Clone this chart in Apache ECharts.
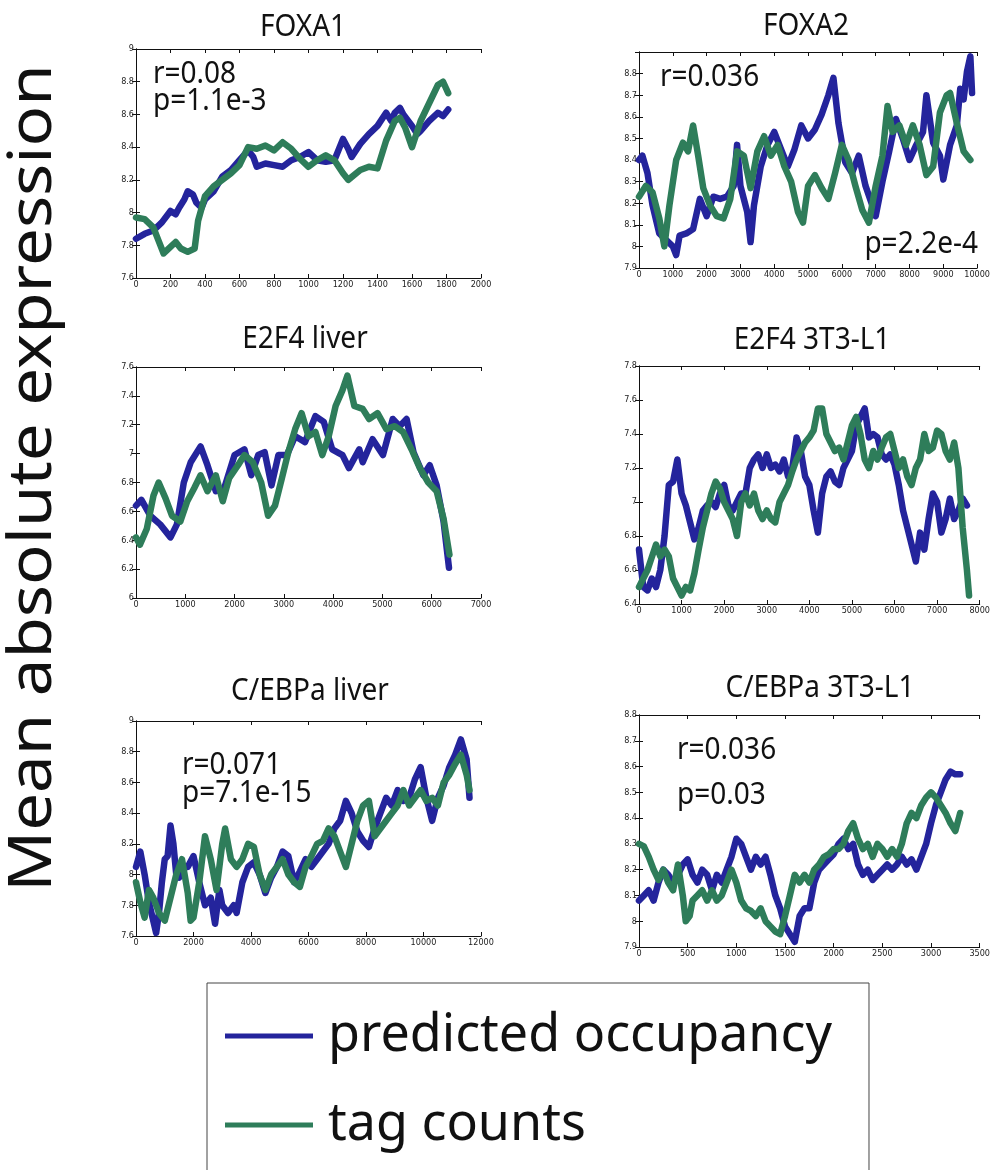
<!DOCTYPE html>
<html><head><meta charset="utf-8">
<script src="https://cdn.jsdelivr.net/npm/echarts@6/dist/echarts.min.js"></script>
<style>html,body{margin:0;padding:0;background:#fff}#c{width:993px;height:1170px}</style>
</head><body><div id="c"></div>
<script>
// ---------------- data ----------------
const panelTitles = ['FOXA1', 'FOXA2', 'E2F4 liver', 'E2F4 3T3-L1', 'C/EBPa liver', 'C/EBPa 3T3-L1'];
const seriesNames = ['predicted occupancy', 'tag counts'];
const xMax  = [2000, 10000, 7000, 8000, 12000, 3500];
const xStep = [200, 1000, 1000, 1000, 2000, 500];
const yMin  = [7.6, 7.9, 6, 6.4, 7.6, 7.9];
const yMax  = [9, 8.9, 7.6, 7.8, 9, 8.8];
const yStep = [0.2, 0.1, 0.2, 0.2, 0.2, 0.1];
const statsR = ['r=0.08', 'r=0.036', '', '', 'r=0.071', 'r=0.036'];
const statsP = ['p=1.1e-3', 'p=2.2e-4', '', '', 'p=7.1e-15', 'p=0.03'];

const foxa1Pred = [[0,7.84],[50,7.87],[100,7.89],[150,7.94],[200,8.01],[230,7.99],[250,8.03],[280,8.08],[300,8.13],[330,8.11],[350,8.06],[380,8.03],[400,8.08],[450,8.13],[500,8.22],[550,8.26],[600,8.32],[650,8.38],[680,8.34],[700,8.28],[750,8.30],[800,8.29],[850,8.28],[900,8.32],[950,8.34],[1000,8.37],[1050,8.32],[1100,8.31],[1150,8.32],[1200,8.45],[1230,8.39],[1250,8.34],[1300,8.42],[1350,8.48],[1400,8.53],[1450,8.61],[1480,8.56],[1500,8.61],[1530,8.64],[1550,8.60],[1600,8.53],[1630,8.48],[1650,8.50],[1700,8.56],[1750,8.61],[1780,8.59],[1810,8.63]];
const foxa1Tag = [[0,7.97],[50,7.96],[100,7.91],[130,7.83],[160,7.75],[200,7.79],[230,7.82],[260,7.78],[300,7.76],[340,7.78],[360,7.95],[400,8.10],[450,8.16],[500,8.20],[550,8.24],[600,8.29],[650,8.40],[700,8.39],[750,8.41],[800,8.38],[850,8.43],[900,8.39],[950,8.33],[1000,8.28],[1050,8.32],[1100,8.35],[1150,8.32],[1200,8.24],[1230,8.20],[1300,8.26],[1350,8.28],[1400,8.27],[1450,8.44],[1500,8.56],[1530,8.58],[1560,8.52],[1600,8.40],[1650,8.56],[1700,8.67],[1750,8.78],[1780,8.80],[1810,8.73]];

const foxa2Pred = [[0,8.40],[100,8.42],[250,8.34],[400,8.19],[600,8.06],[800,8.03],[1000,8.00],[1100,7.96],[1200,8.05],[1400,8.06],[1600,8.08],[1800,8.22],[2000,8.14],[2200,8.23],[2400,8.22],[2600,8.23],[2800,8.28],[2900,8.47],[3000,8.28],[3200,8.16],[3300,8.02],[3400,8.19],[3600,8.37],[3800,8.47],[4000,8.53],[4200,8.45],[4400,8.37],[4600,8.45],[4800,8.56],[5000,8.50],[5200,8.54],[5400,8.61],[5600,8.70],[5750,8.78],[5900,8.57],[6100,8.39],[6300,8.34],[6500,8.42],[6700,8.28],[6900,8.19],[7000,8.14],[7200,8.30],[7400,8.44],[7600,8.59],[7800,8.50],[8000,8.40],[8200,8.47],[8400,8.53],[8500,8.70],[8700,8.48],[8900,8.42],[9000,8.31],[9200,8.47],[9400,8.56],[9500,8.73],[9600,8.68],[9700,8.81],[9800,8.88],[9850,8.71]];
const foxa2Tag = [[0,8.23],[200,8.28],[400,8.25],[600,8.13],[750,8.00],[900,8.19],[1100,8.40],[1300,8.48],[1450,8.44],[1600,8.56],[1750,8.42],[1900,8.27],[2100,8.19],[2300,8.14],[2500,8.13],[2700,8.22],[2900,8.44],[3100,8.42],[3300,8.27],[3500,8.44],[3700,8.51],[3900,8.42],[4100,8.47],[4300,8.37],[4500,8.30],[4700,8.16],[4850,8.11],[5000,8.28],[5200,8.33],[5400,8.27],[5600,8.22],[5800,8.34],[6000,8.47],[6200,8.40],[6400,8.28],[6600,8.17],[6800,8.11],[7000,8.28],[7200,8.42],[7350,8.65],[7500,8.53],[7700,8.56],[7900,8.47],[8100,8.56],[8300,8.47],[8500,8.33],[8700,8.37],[8900,8.62],[9100,8.70],[9200,8.71],[9400,8.57],[9600,8.44],[9800,8.40]];

const e2f4LiverPred = [[0,6.64],[110,6.68],[290,6.57],[490,6.51],[700,6.42],[830,6.51],[970,6.80],[1110,6.94],[1310,7.05],[1450,6.92],[1620,6.74],[1790,6.76],[2000,6.99],[2200,7.03],[2340,6.85],[2480,6.99],[2610,7.01],[2750,6.78],[2890,6.99],[3060,6.99],[3230,7.12],[3430,7.08],[3640,7.26],[3810,7.22],[3980,7.03],[4190,6.99],[4320,6.90],[4530,7.03],[4600,6.94],[4800,7.10],[5010,6.99],[5210,7.24],[5350,7.19],[5490,7.24],[5630,7.01],[5830,6.85],[5960,6.92],[6100,6.78],[6240,6.53],[6350,6.21]];
const e2f4LiverTag = [[0,6.42],[80,6.37],[220,6.48],[355,6.71],[460,6.80],[600,6.69],[730,6.57],[900,6.53],[1040,6.67],[1180,6.76],[1310,6.85],[1450,6.74],[1620,6.85],[1760,6.67],[1890,6.83],[2070,6.92],[2200,6.99],[2370,6.94],[2540,6.80],[2680,6.57],[2820,6.64],[2960,6.83],[3090,7.01],[3230,7.17],[3360,7.28],[3500,7.12],[3640,7.15],[3780,6.99],[3910,7.12],[4050,7.33],[4190,7.44],[4290,7.54],[4430,7.33],[4600,7.31],[4730,7.24],[4900,7.28],[5080,7.17],[5250,7.19],[5420,7.15],[5590,7.03],[5760,6.90],[5930,6.80],[6100,6.74],[6240,6.55],[6360,6.30]];

const e2f43t3Pred = [[0,6.72],[100,6.50],[200,6.48],[300,6.55],[400,6.50],[500,6.60],[600,6.80],[700,7.10],[800,7.12],[900,7.25],[1000,7.05],[1100,6.98],[1200,6.88],[1300,6.78],[1400,6.85],[1500,6.95],[1600,6.98],[1700,7.00],[1800,6.97],[1900,7.05],[2000,7.10],[2100,6.98],[2200,6.95],[2300,7.00],[2400,7.05],[2500,7.05],[2600,7.20],[2700,7.25],[2800,7.28],[2900,7.20],[3000,7.28],[3100,7.20],[3200,7.22],[3300,7.18],[3400,7.25],[3500,7.15],[3600,7.20],[3700,7.38],[3800,7.30],[3900,7.15],[4000,7.10],[4100,6.95],[4200,6.82],[4300,7.05],[4400,7.15],[4500,7.18],[4600,7.12],[4700,7.10],[4800,7.20],[4900,7.25],[5000,7.30],[5100,7.45],[5200,7.50],[5300,7.55],[5400,7.38],[5500,7.40],[5600,7.38],[5700,7.28],[5800,7.25],[5900,7.28],[6000,7.22],[6100,7.10],[6200,6.95],[6300,6.85],[6400,6.75],[6500,6.65],[6600,6.82],[6700,6.72],[6800,6.90],[6900,7.05],[7000,7.00],[7100,6.82],[7200,6.90],[7300,7.02],[7400,6.90],[7500,6.95],[7600,7.02],[7700,6.98]];
const e2f43t3Tag = [[0,6.50],[200,6.60],[400,6.75],[500,6.68],[600,6.72],[700,6.68],[800,6.55],[900,6.50],[1000,6.45],[1100,6.50],[1200,6.48],[1300,6.58],[1400,6.72],[1500,6.85],[1600,6.95],[1700,7.05],[1800,7.12],[1900,7.08],[2000,7.00],[2100,6.95],[2200,6.90],[2300,6.80],[2400,7.00],[2500,7.05],[2600,6.98],[2700,7.05],[2800,6.95],[2900,6.90],[3000,6.95],[3100,6.90],[3200,6.88],[3300,7.00],[3400,7.05],[3500,7.10],[3600,7.18],[3700,7.25],[3800,7.30],[3900,7.35],[4000,7.38],[4100,7.42],[4200,7.55],[4300,7.55],[4400,7.40],[4500,7.35],[4600,7.30],[4700,7.32],[4800,7.25],[4900,7.35],[5000,7.45],[5100,7.50],[5200,7.40],[5300,7.25],[5400,7.20],[5500,7.30],[5600,7.25],[5700,7.32],[5800,7.38],[5900,7.40],[6000,7.30],[6100,7.20],[6200,7.25],[6300,7.15],[6400,7.10],[6500,7.20],[6600,7.25],[6700,7.40],[6800,7.30],[6900,7.32],[7000,7.42],[7100,7.40],[7200,7.30],[7300,7.25],[7400,7.35],[7500,7.20],[7600,6.85],[7700,6.60],[7750,6.45]];

const cebpLiverPred = [[0,8.05],[150,8.15],[300,8.00],[450,7.82],[600,7.70],[700,7.62],[800,7.75],[900,7.95],[1000,8.10],[1100,8.12],[1200,8.32],[1300,8.20],[1400,8.00],[1500,7.98],[1600,8.05],[1800,8.05],[2000,8.12],[2200,7.95],[2400,7.80],[2600,7.85],[2750,7.68],[2900,7.90],[3000,7.80],[3200,7.75],[3400,7.80],[3500,7.75],[3700,7.95],[3900,8.05],[4100,8.08],[4300,8.00],[4500,7.88],[4700,7.98],[4900,8.05],[5100,8.15],[5300,8.12],[5500,7.95],[5700,8.02],[5900,8.10],[6100,8.05],[6300,8.10],[6500,8.15],[6700,8.20],[6900,8.30],[7100,8.35],[7300,8.48],[7500,8.40],[7700,8.28],[7900,8.22],[8100,8.18],[8300,8.30],[8500,8.40],[8700,8.50],[8900,8.45],[9100,8.55],[9300,8.48],[9500,8.50],[9700,8.62],[9900,8.70],[10100,8.50],[10300,8.35],[10500,8.50],[10700,8.58],[10900,8.70],[11100,8.78],[11300,8.88],[11500,8.75],[11600,8.50]];
const cebpLiverTag = [[0,7.95],[150,7.82],[300,7.72],[450,7.90],[600,7.85],[800,7.75],[1000,7.70],[1200,7.85],[1400,8.00],[1600,8.10],[1800,7.88],[1900,7.70],[2000,7.72],[2200,7.95],[2400,8.25],[2600,8.10],[2800,7.90],[3000,8.20],[3100,8.30],[3300,8.10],[3500,8.05],[3700,8.10],[3900,8.20],[4100,8.18],[4300,8.00],[4500,7.90],[4700,8.00],[4900,8.05],[5100,8.10],[5300,8.00],[5500,7.95],[5700,7.92],[5900,8.05],[6100,8.12],[6300,8.20],[6500,8.22],[6700,8.30],[6900,8.25],[7100,8.15],[7300,8.05],[7500,8.20],[7700,8.35],[7900,8.45],[8100,8.48],[8300,8.25],[8500,8.30],[8700,8.35],[8900,8.40],[9100,8.45],[9300,8.55],[9500,8.45],[9700,8.50],[9900,8.55],[10100,8.48],[10300,8.50],[10500,8.45],[10700,8.60],[10900,8.65],[11100,8.72],[11300,8.78],[11500,8.65],[11600,8.55]];

const cebp3t3Pred = [[0,8.08],[50,8.10],[100,8.12],[150,8.08],[200,8.15],[250,8.20],[300,8.18],[350,8.15],[400,8.18],[450,8.22],[500,8.24],[550,8.18],[600,8.15],[650,8.20],[700,8.18],[750,8.12],[800,8.18],[850,8.15],[900,8.20],[950,8.25],[1000,8.32],[1050,8.30],[1100,8.25],[1150,8.20],[1200,8.25],[1250,8.22],[1300,8.25],[1350,8.18],[1400,8.10],[1450,8.05],[1500,7.98],[1550,7.95],[1600,7.92],[1650,8.02],[1700,8.05],[1750,8.05],[1800,8.15],[1850,8.20],[1900,8.22],[1950,8.24],[2000,8.26],[2050,8.30],[2100,8.32],[2150,8.28],[2200,8.30],[2250,8.22],[2300,8.18],[2350,8.20],[2400,8.16],[2450,8.18],[2500,8.20],[2550,8.22],[2600,8.20],[2650,8.22],[2700,8.25],[2750,8.22],[2800,8.24],[2850,8.20],[2900,8.25],[2950,8.30],[3000,8.38],[3050,8.45],[3100,8.50],[3150,8.55],[3200,8.58],[3250,8.57],[3300,8.57]];
const cebp3t3Tag = [[0,8.30],[50,8.29],[100,8.25],[150,8.20],[200,8.16],[250,8.20],[300,8.15],[350,8.12],[400,8.22],[450,8.10],[480,8.00],[520,8.02],[550,8.08],[600,8.10],[650,8.12],[700,8.08],[750,8.12],[800,8.08],[850,8.10],[900,8.15],[950,8.20],[1000,8.15],[1050,8.08],[1100,8.05],[1150,8.04],[1200,8.02],[1250,8.05],[1300,8.00],[1350,7.98],[1400,7.96],[1450,7.95],[1500,8.02],[1550,8.10],[1600,8.18],[1650,8.15],[1700,8.18],[1750,8.15],[1800,8.20],[1850,8.22],[1900,8.25],[1950,8.26],[2000,8.28],[2050,8.28],[2100,8.30],[2150,8.35],[2200,8.38],[2250,8.32],[2300,8.28],[2350,8.30],[2400,8.25],[2450,8.30],[2500,8.28],[2550,8.25],[2600,8.28],[2650,8.25],[2700,8.30],[2750,8.38],[2800,8.42],[2850,8.40],[2900,8.45],[2950,8.48],[3000,8.50],[3050,8.48],[3100,8.45],[3150,8.42],[3200,8.38],[3250,8.35],[3300,8.42]];

const predData = [foxa1Pred, foxa2Pred, e2f4LiverPred, e2f43t3Pred, cebpLiverPred, cebp3t3Pred];
const tagData  = [foxa1Tag, foxa2Tag, e2f4LiverTag, e2f43t3Tag, cebpLiverTag, cebp3t3Tag];

// ---------------- layout / style ----------------
const gridBoxes = [[136,49,345,229],[639,52,346,216],[136,367,345,231],[639,366,346,238],[136,721,345,215],[639,715,346,232]];
const titlePos = [[303,27],[806,26],[305,339],[812,340],[310,691],[820,688]];
const rPos = [[153,74,'left'],[660,77,'left'],null,null,[182,765,'left'],[677,750,'left']];
const pPos = [[153,101,'left'],[978,244,'right'],null,null,[182,793,'left'],[677,795,'left']];
const BLUE = '#24249c', GREEN = '#2e7d5a';
const FONT = '"Noto Sans", "Open Sans", sans-serif';
const TICKFONT = '"Liberation Sans Narrow", "DejaVu Sans Condensed", sans-serif';

const grid = [], xAxis = [], yAxis = [], series = [], graphic = [];
const fmt = (i) => (v) => {
  if (i === 1 && v > 8.85) return '';
  return String(+(+v).toFixed(2));
};
for (let i = 0; i < 6; i++) {
  const [l, t, w, h] = gridBoxes[i];
  grid.push({ left: l, top: t, width: w, height: h, show: false });
  const common = { type: 'value', gridIndex: i, axisLine: { show: true, lineStyle: { color: '#111', width: 1 } },
    axisTick: { show: true, inside: true, length: 4, lineStyle: { color: '#111' } }, splitLine: { show: false } };
  xAxis.push(Object.assign({}, common, { position: 'bottom', min: 0, max: xMax[i], interval: xStep[i],
    axisLabel: { show: true, fontSize: 9, fontFamily: TICKFONT, color: '#222', margin: 2, formatter: (v) => String(v) } }));
  xAxis.push(Object.assign({}, common, { position: 'top', min: 0, max: xMax[i], interval: xStep[i], axisLabel: { show: false } }));
  yAxis.push(Object.assign({}, common, { position: 'left', min: yMin[i], max: yMax[i], interval: yStep[i],
    axisLabel: { show: true, fontSize: 9, fontFamily: TICKFONT, color: '#222', margin: 2, formatter: fmt(i) } }));
  yAxis.push(Object.assign({}, common, { position: 'right', min: yMin[i], max: yMax[i], interval: yStep[i], axisLabel: { show: false } }));
  const lineBase = { type: 'line', xAxisIndex: 2 * i, yAxisIndex: 2 * i, symbol: 'none', smooth: false,
    silent: true, animation: false };
  series.push(Object.assign({}, lineBase, { name: seriesNames[0], data: predData[i], color: BLUE,
    lineStyle: { color: BLUE, width: 6.5, join: 'round', cap: 'round' }, z: 2 }));
  series.push(Object.assign({}, lineBase, { name: seriesNames[1], data: tagData[i], color: GREEN,
    lineStyle: { color: GREEN, width: 6.5, join: 'round', cap: 'round' }, z: 3 }));

  graphic.push({ type: 'text', x: titlePos[i][0], y: titlePos[i][1], scaleY: 1.12,
    style: { text: panelTitles[i], fontSize: 28, fontFamily: FONT, fill: '#111', align: 'center', verticalAlign: 'middle' } });
  if (rPos[i]) graphic.push({ type: 'text', x: rPos[i][0], y: rPos[i][1], scaleY: 1.12, z: 10,
    style: { text: statsR[i], fontSize: 28, fontFamily: FONT, fill: '#111', align: rPos[i][2], verticalAlign: 'middle' } });
  if (pPos[i]) graphic.push({ type: 'text', x: pPos[i][0], y: pPos[i][1], scaleY: 1.12, z: 10,
    style: { text: statsP[i], fontSize: 28, fontFamily: FONT, fill: '#111', align: pPos[i][2], verticalAlign: 'middle' } });
}
graphic.push({ type: 'text', x: 34, y: 478, rotation: Math.PI / 2, scaleX: 1.12,
  style: { text: 'Mean absolute expression', fontSize: 60, fontFamily: FONT, fill: '#111', align: 'center', verticalAlign: 'middle' } });

const chart = echarts.init(document.getElementById('c'), null, { renderer: 'canvas' });
chart.setOption({
  backgroundColor: '#fff',
  animation: false,
  grid, xAxis, yAxis, series, graphic,
  legend: {
    data: seriesNames, orient: 'vertical', left: 207, top: 983, height: 400, width: 700,
    padding: [27, 37, 60, 18], itemGap: 37,
    icon: 'rect', itemWidth: 88, itemHeight: 5,
    borderColor: '#444', borderWidth: 1, backgroundColor: '#fff',
    selectedMode: false,
    textStyle: { fontSize: 52, fontFamily: FONT, color: '#111', padding: [0, 0, 0, 10] }
  }
});
</script></body></html>
